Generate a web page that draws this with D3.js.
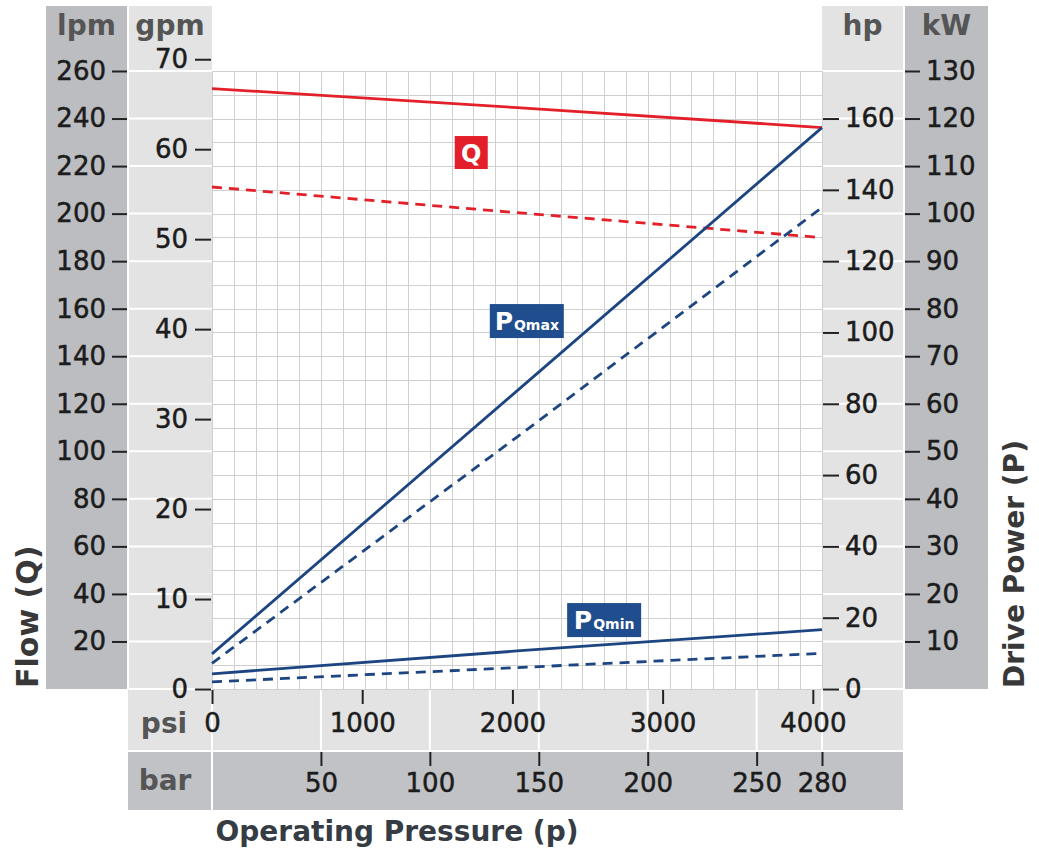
<!DOCTYPE html>
<html><head><meta charset="utf-8">
<script src="https://cdn.jsdelivr.net/npm/d3@7"></script>
<style>
html,body{margin:0;padding:0;background:#fff;}
svg{display:block;font-family:"DejaVu Sans",sans-serif;}
</style></head>
<body>
<svg id="c" width="1039" height="848"></svg>
<script>
// ---------- data ----------
const pressureBar = [0, 140, 280];
const flowQmaxLpm = [252.6, 244.6, 236.2];   // Q solid (lpm)
const flowQminLpm = [211.2, 200.4, 189.9];   // Q dashed (lpm)
const powerPQmaxKw = [7.4, 62.7, 118.1];     // P Qmax solid (kW)
const powerPQmaxKwDash = [5.4, 53.0, 101.3]; // P Qmax dashed (kW)
const powerPQminKw = [3.2, 8.0, 12.5];       // P Qmin solid (kW)
const powerPQminKwDash = [1.5, 4.5, 7.5];    // P Qmin dashed (kW)

const lpmTicks = [20,40,60,80,100,120,140,160,180,200,220,240,260];
const gpmTicks = [0,10,20,30,40,50,60,70];
const hpTicks = [0,20,40,60,80,100,120,140,160];
const kwTicks = [10,20,30,40,50,60,70,80,90,100,110,120,130];
const psiTicks = [0,1000,2000,3000,4000];
const barTicks = [50,100,150,200,250,280];
const panelBarLines = [0,50,100,150,200,250,280];

const LPM_PER_GPM = 3.785, KW_PER_HP = 0.75, PSI_PER_BAR = 14.5038;

// ---------- layout ----------
const svg = d3.select("#c");
const L = 212, R = 822, T = 71, B = 689;
const xBar = d3.scaleLinear().domain([0,280]).range([L,R]);
const xPsi = d3.scaleLinear().domain([0,280*PSI_PER_BAR]).range([L,R]);
const yLpm = d3.scaleLinear().domain([0,260]).range([B,T]);
const yGpm = d3.scaleLinear().domain([0,260/LPM_PER_GPM]).range([B,T]);
const yKw = d3.scaleLinear().domain([0,130]).range([B,T]);
const yHp = d3.scaleLinear().domain([0,130/KW_PER_HP]).range([B,T]);

const dark = "#bbbdc0", light = "#e3e3e3", darkRow = "#c0c2c5";

// panels
svg.append("rect").attr("x",46).attr("y",6).attr("width",81).attr("height",B-6).attr("fill",dark);
svg.append("rect").attr("x",129).attr("y",6).attr("width",L-129).attr("height",B-6).attr("fill",light);
svg.append("rect").attr("x",R).attr("y",6).attr("width",81).attr("height",750-6).attr("fill",light);
svg.append("rect").attr("x",905).attr("y",6).attr("width",83).attr("height",B-6).attr("fill",dark);
svg.append("rect").attr("x",128).attr("y",B).attr("width",903-128).attr("height",750-B).attr("fill",light);
svg.append("rect").attr("x",128).attr("y",752).attr("width",903-128).attr("height",58).attr("fill",darkRow);

// white lines in light panels
const wl = svg.append("g").attr("stroke","#fff").attr("stroke-width",2);
d3.range(0,261,20).forEach(v=>{
  wl.append("line").attr("x1",129).attr("x2",L).attr("y1",yLpm(v)).attr("y2",yLpm(v));
  wl.append("line").attr("x1",R).attr("x2",903).attr("y1",yLpm(v)).attr("y2",yLpm(v));
});
panelBarLines.forEach(v=>{
  wl.append("line").attr("x1",xBar(v)).attr("x2",xBar(v)).attr("y1",B+1).attr("y2",750);
});
wl.append("line").attr("x1",L).attr("x2",L).attr("y1",752).attr("y2",810);

// plot area
svg.append("rect").attr("x",L).attr("y",T).attr("width",R-L).attr("height",B-T).attr("fill","#fff");
const grid = svg.append("g").attr("stroke","#d0d0d0").attr("stroke-width",1);
d3.range(0,281,10).forEach(v=>{
  grid.append("line").attr("x1",Math.round(xBar(v))+0.5).attr("x2",Math.round(xBar(v))+0.5).attr("y1",T).attr("y2",B);
});
d3.range(0,261,10).forEach(v=>{
  grid.append("line").attr("x1",L).attr("x2",R).attr("y1",Math.round(yLpm(v))+0.5).attr("y2",Math.round(yLpm(v))+0.5);
});

// ---------- axes ----------
function styleAxis(g, fs){
  g.select(".domain").remove();
  g.selectAll(".tick line").attr("stroke","#222").attr("stroke-width",2);
  g.selectAll(".tick text").attr("fill","#1c1c1c").attr("stroke","#1c1c1c").attr("stroke-width",0.5)
    .style("font-size",fs+"px").style("font-family","DejaVu Sans, sans-serif");
}
const fs = 26;
svg.append("g").attr("transform","translate(127,0)")
  .call(d3.axisLeft(yLpm).tickValues(lpmTicks).tickSize(15).tickPadding(6).tickFormat(d3.format("d")))
  .call(g=>styleAxis(g,fs));
svg.append("g").attr("transform","translate(211,0)")
  .call(d3.axisLeft(yGpm).tickValues(gpmTicks).tickSize(16).tickPadding(7).tickFormat(d3.format("d")))
  .call(g=>styleAxis(g,fs));
svg.append("g").attr("transform","translate(823,0)")
  .call(d3.axisRight(yHp).tickValues(hpTicks).tickSize(16).tickPadding(6).tickFormat(d3.format("d")))
  .call(g=>styleAxis(g,fs));
svg.append("g").attr("transform","translate(905,0)")
  .call(d3.axisRight(yKw).tickValues(kwTicks).tickSize(15).tickPadding(6).tickFormat(d3.format("d")))
  .call(g=>styleAxis(g,fs));
svg.append("g").attr("transform","translate(0,"+(B+1)+")")
  .call(d3.axisBottom(xPsi).tickValues(psiTicks).tickSize(14).tickPadding(10).tickFormat(d3.format("d")))
  .call(g=>styleAxis(g,fs));
svg.append("g").attr("transform","translate(0,752)")
  .call(d3.axisBottom(xBar).tickValues(barTicks).tickSize(14).tickPadding(8).tickFormat(d3.format("d")))
  .call(g=>styleAxis(g,fs));

// ---------- unit labels ----------
const unit = (txt,x,y)=>svg.append("text").attr("x",x).attr("y",y).attr("text-anchor","middle")
  .attr("fill","#555").style("font-size","28px").style("font-weight","bold").text(txt);
unit("lpm",86.5,35); unit("gpm",170,35); unit("hp",862.5,35); unit("kW",946.5,35);
unit("psi",164,733); unit("bar",165,790);

// ---------- titles ----------
svg.append("text").attr("transform","translate(38,688) rotate(-90)").attr("fill","#383838")
  .style("font-size","30px").style("font-weight","bold").text("Flow (Q)");
svg.append("text").attr("transform","translate(1024,688) rotate(-90)").attr("fill","#383838")
  .style("font-size","28px").style("font-weight","bold").text("Drive Power (P)");
svg.append("text").attr("x",397).attr("y",841).attr("text-anchor","middle").attr("fill","#363c44")
  .style("font-size","28px").style("font-weight","bold").text("Operating Pressure (p)");

// ---------- series ----------
const red = "#e3202a", blue = "#1d4581";
function series(vals, yScale, color, dashed){
  const pts = pressureBar.map((p,i)=>[p, vals[i]]);
  svg.append("path").datum(pts)
    .attr("d", d3.line().x(d=>xBar(d[0])).y(d=>yScale(d[1])))
    .attr("fill","none").attr("stroke",color).attr("stroke-width",2.8)
    .attr("stroke-dasharray", dashed ? "10,7" : null);
}
series(flowQmaxLpm, yLpm, red, false);
series(flowQminLpm, yLpm, red, true);
series(powerPQmaxKw, yKw, blue, false);
series(powerPQmaxKwDash, yKw, blue, true);
series(powerPQminKw, yKw, blue, false);
series(powerPQminKwDash, yKw, blue, true);

// ---------- series labels ----------
const boxBlue = "#1f4d8d";
function label(cx, cy, w, h, color, main, sub){
  const g = svg.append("g");
  g.append("rect").attr("x",cx-w/2).attr("y",cy-h/2).attr("width",w).attr("height",h).attr("fill",color);
  const t = g.append("text").attr("x",cx).attr("y",cy+9).attr("text-anchor","middle").attr("fill","#fff")
    .style("font-weight","bold");
  t.append("tspan").style("font-size", sub ? "25px" : "24px").text(main);
  if(sub) t.append("tspan").style("font-size","14px").attr("dx",1).text(sub);
}
label(xBar(119), yLpm(225.7), 33, 33, red, "Q", null);
label(xBar(144.5), yKw(77.4), 74, 34, boxBlue, "P", "Qmax");
label(xBar(180), yKw(14.5), 74, 34, boxBlue, "P", "Qmin");
</script>
</body></html>
